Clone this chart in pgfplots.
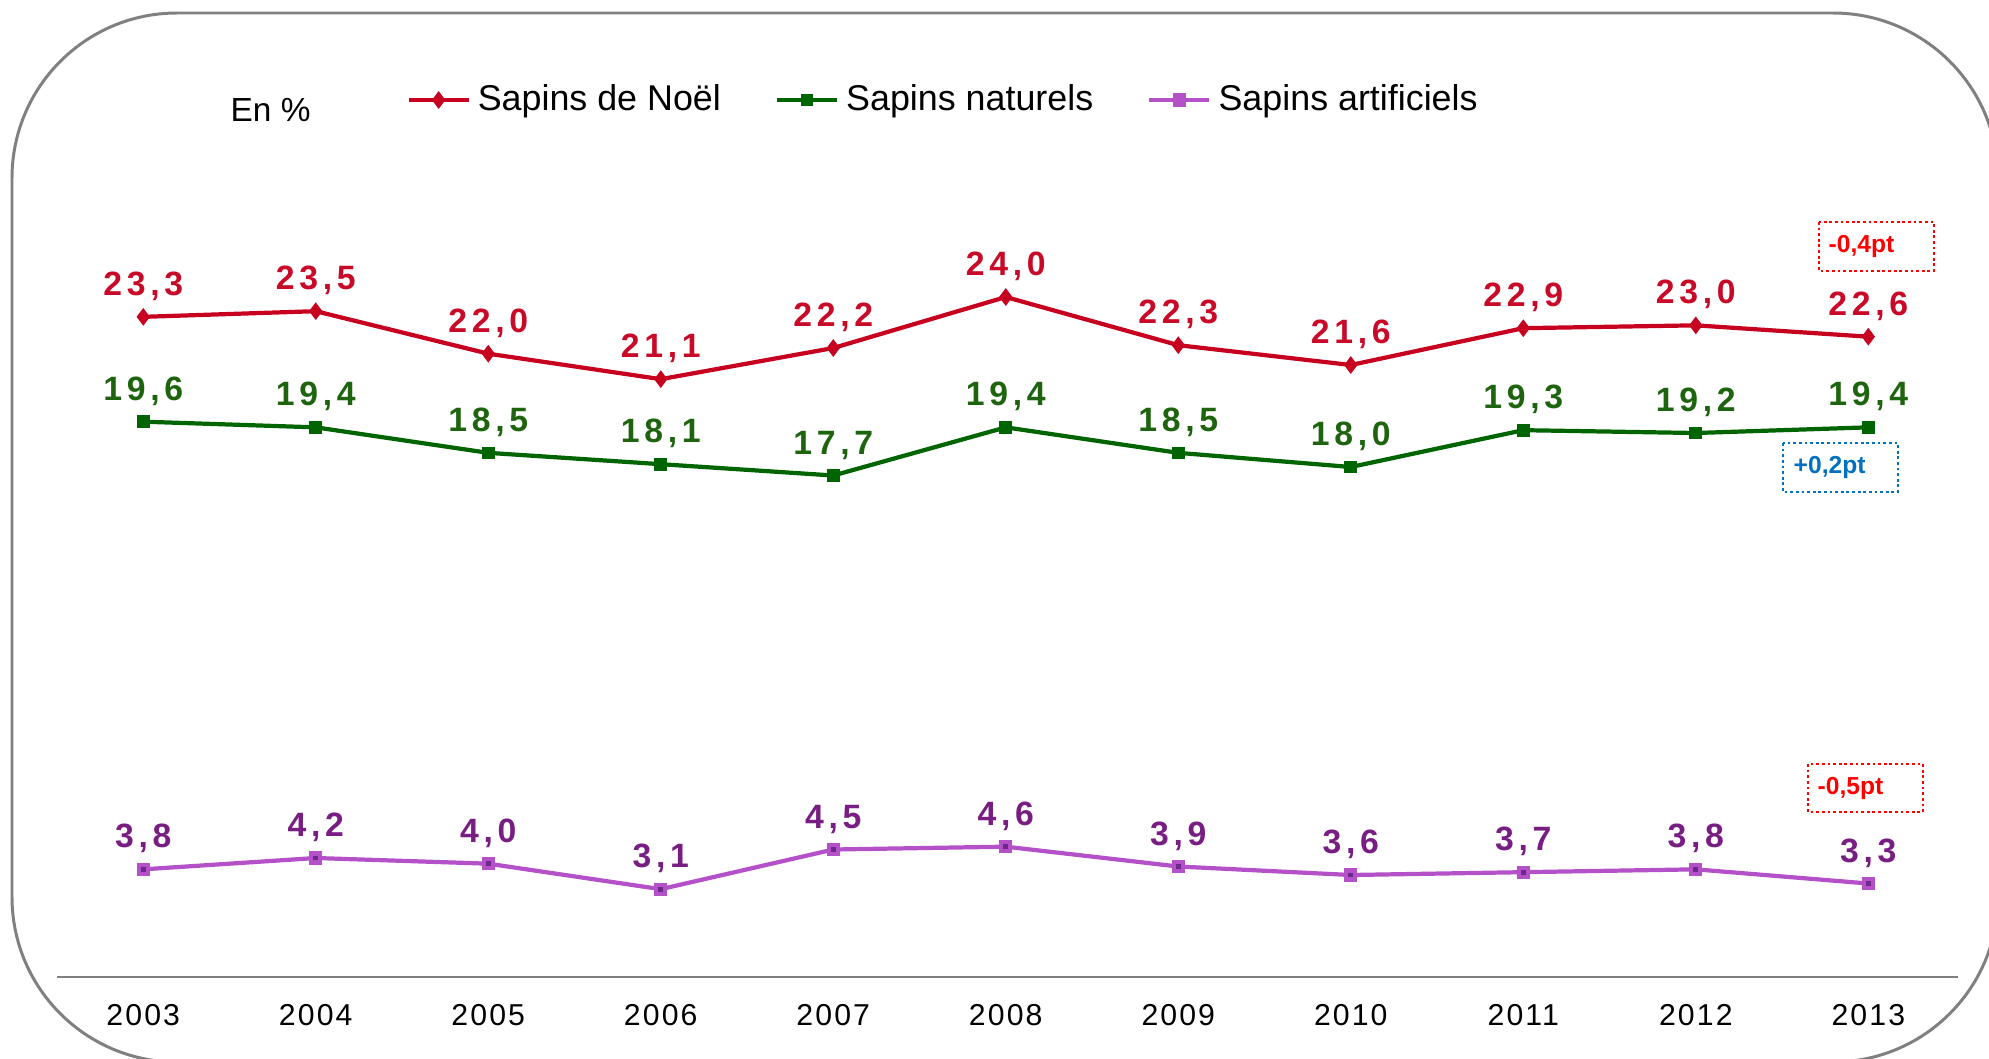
\documentclass[border=0pt]{standalone}
\usepackage{pgfplots}
\pgfplotsset{compat=1.18}
\usepackage{fontspec}
\setmainfont{Liberation Sans}
\newfontfamily\labfont[LetterSpace=14]{Liberation Sans}
\newfontfamily\yearfont[LetterSpace=7]{Liberation Sans}
\definecolor{redline}{RGB}{200,0,32}
\definecolor{redlab}{RGB}{200,10,40}
\definecolor{greenline}{RGB}{0,100,0}
\definecolor{greenlab}{RGB}{30,100,15}
\definecolor{purpleline}{RGB}{180,80,200}
\definecolor{purplelab}{RGB}{120,30,130}
\definecolor{purpledot}{RGB}{110,40,140}
\definecolor{framegray}{RGB}{128,128,128}
\definecolor{axisgray}{RGB}{128,128,128}
\definecolor{annred}{RGB}{255,0,0}
\definecolor{annblue}{RGB}{0,112,192}

\pgfplotstableread{
year noel naturels artificiels
2003 23.3 19.6 3.8
2004 23.5 19.4 4.2
2005 22.0 18.5 4.0
2006 21.1 18.1 3.1
2007 22.2 17.7 4.5
2008 24.0 19.4 4.6
2009 22.3 18.5 3.9
2010 21.6 18.0 3.6
2011 22.9 19.3 3.7
2012 23.0 19.2 3.8
2013 22.6 19.4 3.3
}\datatable

\begin{document}
\begin{tikzpicture}
\useasboundingbox (0,0) rectangle (19.89cm,10.58cm);
\begin{scope}
\clip (0,0) rectangle (19.89cm,10.58cm);
\draw[color=framegray, line width=0.85pt, rounded corners=1.65cm] (0.12cm,-0.04cm) rectangle (19.98cm,10.45cm);
\end{scope}
\begin{axis}[
  at={(0.57cm,0.81cm)}, anchor=south west,
  scale only axis, width=19.01cm, height=9.35cm,
  xmin=2002.5, xmax=2013.52, ymin=0, ymax=33,
  axis x line*=bottom, axis y line=none,
  x axis line style={color=axisgray, line width=0.75pt},
  ytick=\empty,
  xtick={2003,2004,2005,2006,2007,2008,2009,2010,2011,2012,2013},
  xticklabels={2003,2004,2005,2006,2007,2008,2009,2010,2011,2012,2013},
  major tick length=0pt,
  xtick style={draw=none},
  xticklabel style={font=\yearfont\fontsize{8.6}{9}\selectfont, anchor=base, yshift=-0.48cm},
  clip=false,
  legend style={at={(0.1835,0.938)}, anchor=west, draw=none, fill=none,
    legend columns=3, font=\fontsize{10.2}{12}\selectfont, inner sep=0pt,
    /tikz/every even column/.append style={column sep=0.47cm}},
  nodes near coords={\pgfmathprintnumber[fixed,fixed zerofill,precision=1,use comma,assume math mode=true]{\pgfplotspointmeta}},
  every node near coord/.append style={font=\labfont\bfseries\fontsize{9.6}{10}\selectfont, anchor=base, yshift=0.215cm, inner sep=0pt},
]
\addplot[color=redline, line width=1.2pt, mark=diamond*, mark size=2.2pt,
  mark options={fill=redline, draw=redline, line width=0.4pt},
  nodes near coords style={text=redlab}] table[x=year, y=noel] {\datatable};
\addlegendentry{Sapins de Noël}
\addplot[color=greenline, line width=1.2pt, mark=square*, mark size=1.6pt,
  mark options={fill=greenline, draw=greenline, line width=0.4pt},
  nodes near coords style={text=greenlab}] table[x=year, y=naturels] {\datatable};
\addlegendentry{Sapins naturels}
\addplot[color=purpleline, line width=1.2pt, mark=square*, mark size=1.7pt,
  mark options={fill=purpleline, draw=purpleline, line width=0.4pt},
  nodes near coords style={text=purplelab}] table[x=year, y=artificiels] {\datatable};
\addlegendentry{Sapins artificiels}
\addplot[only marks, mark=square*, mark size=0.5pt, color=purpledot,
  nodes near coords={}, forget plot] table[x=year, y=artificiels] {\datatable};
\end{axis}
\node[anchor=west, inner sep=0pt, font=\fontsize{9.5}{11}\selectfont] at (2.30cm,9.48cm) {En \%};
\draw[annred, line width=0.7pt, dash pattern=on 0.8pt off 0.8pt] (18.19cm,8.36cm) rectangle (19.34cm,7.87cm);
\node[anchor=west, inner sep=0pt, text=annred, font=\bfseries\fontsize{7}{8}\selectfont] at (18.28cm,8.115cm) {-0,4pt};
\draw[annblue, line width=0.7pt, dash pattern=on 0.8pt off 0.8pt] (17.83cm,6.15cm) rectangle (18.98cm,5.66cm);
\node[anchor=west, inner sep=0pt, text=annblue, font=\bfseries\fontsize{7}{8}\selectfont] at (17.93cm,5.905cm) {+0,2pt};
\draw[annred, line width=0.7pt, dash pattern=on 0.8pt off 0.8pt] (18.08cm,2.94cm) rectangle (19.23cm,2.46cm);
\node[anchor=west, inner sep=0pt, text=annred, font=\bfseries\fontsize{7}{8}\selectfont] at (18.17cm,2.70cm) {-0,5pt};
\end{tikzpicture}
\end{document}
